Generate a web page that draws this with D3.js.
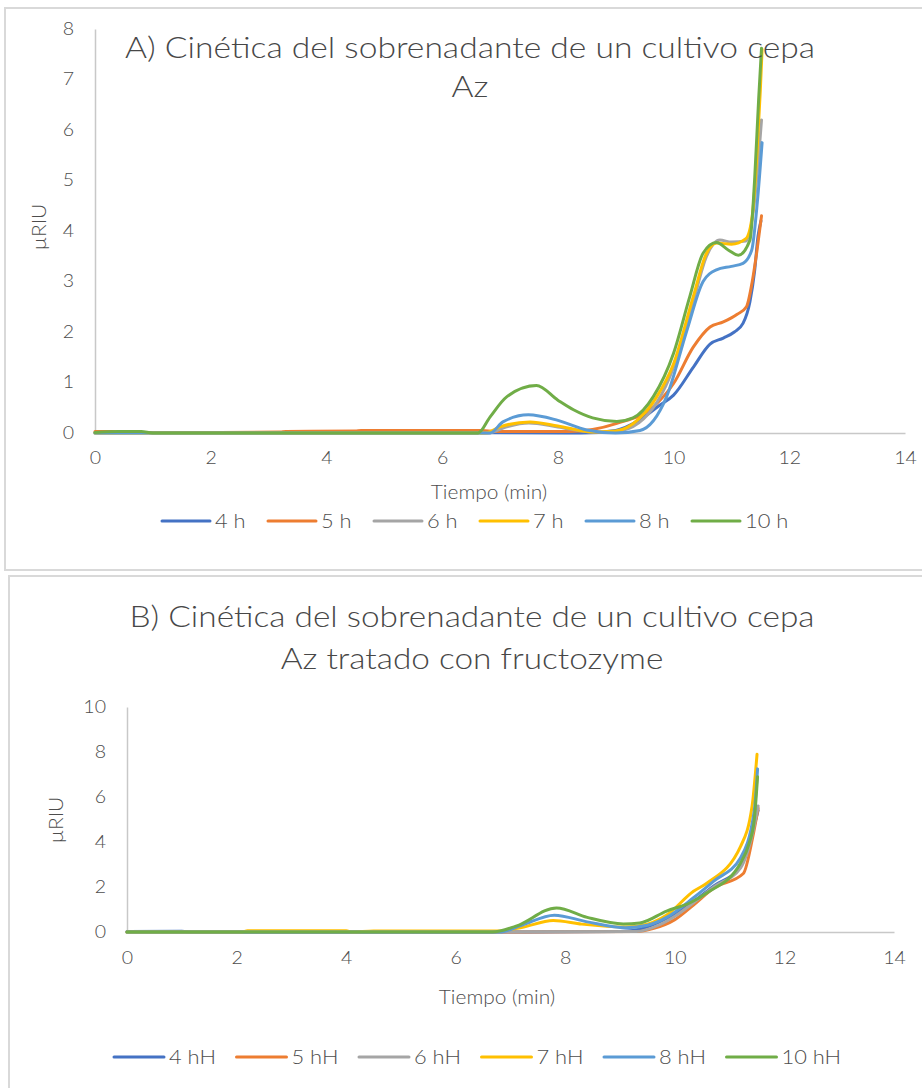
<!DOCTYPE html>
<html>
<head>
<meta charset="utf-8">
<script src="https://cdn.jsdelivr.net/npm/d3@7/dist/d3.min.js"></script>
<style>
  body { margin: 0; background: #fff; }
  svg text { font-family: Lato, "Open Sans", sans-serif; fill: #4d4d4d; font-weight: 300; }
  svg text.title { fill: #474747; }
</style>
</head>
<body>
<svg id="chart" width="922" height="1088"></svg>
<script>
// ---- Panel A: supernatant kinetics, strain Az (time in min, signal in µRIU)
const seriesNamesA = ["4 h", "5 h", "6 h", "7 h", "8 h", "10 h"];
const a4h = [[0,0.01],[2,0.01],[4,0.01],[6,0.01],[8.4,0.0],[9.0,0.05],[9.4,0.25],[9.76,0.55],[10.0,0.75],[10.34,1.3],[10.63,1.76],[10.86,1.88],[11.05,2.0],[11.2,2.17],[11.32,2.6],[11.4,3.2],[11.46,3.9],[11.51,4.2]];
const a5h = [[0,0.03],[0.3,0.03],[0.5,0.01],[1.6,0.01],[3.2,0.02],[3.3,0.03],[4.5,0.04],[4.6,0.05],[6.7,0.05],[6.9,0.03],[8.2,0.03],[8.6,0.07],[9.02,0.19],[9.65,0.52],[10.0,0.98],[10.34,1.7],[10.63,2.1],[10.86,2.2],[11.1,2.35],[11.26,2.5],[11.36,3.0],[11.44,3.6],[11.52,4.3]];
const a6h = [[0,0],[6.8,0],[7.1,0.12],[7.5,0.2],[8.0,0.12],[8.6,0.02],[9.0,0.03],[9.4,0.2],[10.0,1.3],[10.34,2.6],[10.57,3.5],[10.8,3.82],[11.0,3.78],[11.25,3.8],[11.4,4.6],[11.48,5.6],[11.52,6.2]];
const a7h = [[0,0],[6.75,0],[7.0,0.12],[7.52,0.22],[8.0,0.14],[8.6,0.02],[9.0,0.04],[9.4,0.28],[9.7,0.7],[10.0,1.37],[10.34,2.7],[10.57,3.56],[10.75,3.76],[11.0,3.74],[11.25,3.85],[11.36,4.3],[11.44,5.5],[11.5,6.8],[11.53,7.6]];
const a8h = [[0,0],[6.83,0],[7.05,0.22],[7.49,0.36],[8.0,0.25],[8.5,0.06],[9.0,0.0],[9.42,0.05],[9.88,0.72],[10.23,2.03],[10.51,3.0],[10.74,3.23],[11.0,3.3],[11.2,3.36],[11.35,3.62],[11.45,4.6],[11.53,5.75]];
const a10h = [[0,0.01],[0.4,0.03],[0.8,0.03],[1.0,0.0],[6.62,0],[6.83,0.32],[7.12,0.72],[7.63,0.94],[8.0,0.65],[8.27,0.46],[8.6,0.3],[9.02,0.23],[9.3,0.3],[9.65,0.72],[10.0,1.58],[10.28,2.7],[10.51,3.56],[10.74,3.77],[10.95,3.62],[11.12,3.52],[11.32,3.82],[11.4,5.0],[11.47,6.6],[11.52,7.62]];
const yTicksA = [0, 1, 2, 3, 4, 5, 6, 7, 8];

// ---- Panel B: same strain treated with fructozyme
const seriesNamesB = ["4 hH", "5 hH", "6 hH", "7 hH", "8 hH", "10 hH"];
const b4h = [[0,0.02],[1,0.03],[1.2,0.0],[7.0,0.0],[9.0,0.02],[9.4,0.15],[9.85,0.6],[10.34,1.35],[10.71,2.05],[11.2,2.9],[11.4,4.3],[11.52,5.4]];
const b5h = [[0,0],[7.0,0],[9.3,0.02],[9.6,0.15],[10.0,0.55],[10.34,1.2],[10.71,1.95],[11.25,2.6],[11.42,4.2],[11.52,5.5]];
const b6h = [[0,0],[9.3,0.02],[9.7,0.3],[10.0,0.7],[10.34,1.3],[10.71,2.0],[11.2,2.85],[11.42,4.4],[11.52,5.6]];
const b7h = [[0,0],[2.1,0],[2.2,0.06],[4.0,0.06],[4.1,0.0],[4.5,0.05],[6.5,0.05],[6.8,0.05],[7.2,0.2],[7.78,0.51],[8.3,0.35],[9.1,0.22],[9.5,0.35],[9.85,0.75],[10.34,1.81],[10.59,2.18],[11.2,3.81],[11.41,5.6],[11.5,7.9]];
const b8h = [[0,0],[6.8,0],[7.2,0.3],[7.8,0.75],[8.4,0.45],[9.1,0.19],[9.5,0.3],[9.85,0.65],[10.34,1.52],[10.71,2.26],[11.2,3.3],[11.45,5.4],[11.51,7.25]];
const b10h = [[0,0],[6.67,0],[7.1,0.26],[7.84,1.07],[8.4,0.65],[9.06,0.36],[9.36,0.4],[9.85,0.93],[10.28,1.3],[10.59,1.74],[11.2,3.07],[11.35,3.9],[11.45,5.0],[11.51,6.9]];
const yTicksB = [0, 2, 4, 6, 8, 10];

const xTicks = [0, 2, 4, 6, 8, 10, 12, 14];
const seriesColors = ["#4472C4", "#ED7D31", "#A5A5A5", "#FFC000", "#5B9BD5", "#70AD47"];

const svg = d3.select("#chart");

// widen glyphs horizontally by a factor (the text face is a touch wider than Lato)
function widen(sel, f) {
  sel.each(function () {
    const L = this.getComputedTextLength();
    d3.select(this).attr("textLength", L * f).attr("lengthAdjust", "spacingAndGlyphs");
  });
}

function drawPanel(p) {
  const g = svg.append("g");

  // panel frame
  g.append("rect")
    .attr("x", p.frame[0]).attr("y", p.frame[1])
    .attr("width", p.frame[2]).attr("height", p.frame[3])
    .attr("fill", "#fff").attr("stroke", "#d9d9d9").attr("stroke-width", 2);

  const x = d3.scaleLinear().domain([0, 14]).range(p.xRange);
  const y = d3.scaleLinear().domain(p.yDomain).range(p.yRange);

  // axes: plain lines, no tick marks
  const yAxis = d3.axisLeft(y).tickValues(p.yTicks).tickSize(0).tickPadding(p.yPad);
  const xAxis = d3.axisBottom(x).tickValues(xTicks).tickSize(0).tickPadding(p.xPad);

  const ya = g.append("g").attr("transform", `translate(${p.xRange[0]},0)`).call(yAxis);
  const xa = g.append("g").attr("transform", `translate(0,${p.yRange[0]})`).call(xAxis);
  [ya, xa].forEach(a => {
    a.select(".domain").attr("stroke", "#c8c8c8").attr("stroke-width", 1.5);
    const t = a.selectAll("text").attr("font-size", 17).attr("fill", "#4d4d4d")
      .style("font-family", "Lato, sans-serif").style("font-weight", 300);
    widen(t, 1.15);
  });

  // series
  const line = d3.line().x(d => x(d[0])).y(d => y(d[1])).curve(d3.curveMonotoneX);
  p.series.forEach((s, i) => {
    g.append("path").datum(s)
      .attr("d", line)
      .attr("fill", "none")
      .attr("stroke", seriesColors[i])
      .attr("stroke-width", 3)
      .attr("stroke-linejoin", "round")
      .attr("stroke-linecap", "round");
  });

  // title
  const titles = p.title.map((t, i) =>
    g.append("text").attr("class", "title")
      .attr("x", p.titlePos[0]).attr("y", p.titlePos[1] + i * p.titleGap)
      .attr("text-anchor", "middle").attr("font-size", 30).text(t));
  const f = p.titleWidth / titles[0].node().getComputedTextLength();
  titles.forEach(t => widen(t, f));

  // axis titles
  const yt = g.append("text")
    .attr("transform", `translate(${p.yTitlePos[0]},${p.yTitlePos[1]}) rotate(-90)`)
    .attr("text-anchor", "middle").attr("font-size", 19).text("µRIU");
  widen(yt, 1.1);
  const xt = g.append("text").attr("x", p.xTitlePos[0]).attr("y", p.xTitlePos[1])
    .attr("text-anchor", "middle").attr("font-size", 19).text("Tiempo (min)");
  widen(xt, 1.1);

  // legend
  p.names.forEach((n, i) => {
    const lx = p.legend[0] + i * p.legendStep;
    g.append("line")
      .attr("x1", lx).attr("x2", lx + p.legendLine)
      .attr("y1", p.legend[1]).attr("y2", p.legend[1])
      .attr("stroke", seriesColors[i]).attr("stroke-width", 3)
      .attr("stroke-linecap", "round");
    const lt = g.append("text").attr("x", lx + p.legendLine + 5).attr("y", p.legend[1] + 7)
      .attr("font-size", 19).text(n);
    widen(lt, 1.15);
  });
}

drawPanel({
  frame: [5, 8, 935, 562],
  xRange: [95, 905], yRange: [433, 29], yDomain: [0, 8], yTicks: yTicksA,
  yPad: 21, xPad: 19,
  series: [a4h, a5h, a6h, a7h, a8h, a10h], names: seriesNamesA,
  title: ["A) Cinética del sobrenadante de un cultivo cepa", "Az"],
  titlePos: [470, 58], titleGap: 39, titleWidth: 690,
  yTitlePos: [46, 227], xTitlePos: [489, 499],
  legend: [162, 521], legendStep: 106, legendLine: 48
});

drawPanel({
  frame: [9, 576, 935, 530],
  xRange: [127, 894], yRange: [932, 707], yDomain: [0, 10], yTicks: yTicksB,
  yPad: 21, xPad: 20,
  series: [b4h, b5h, b6h, b7h, b8h, b10h], names: seriesNamesB,
  title: ["B) Cinética del sobrenadante de un cultivo cepa", "Az tratado con fructozyme"],
  titlePos: [472, 627], titleGap: 42, titleWidth: 685,
  yTitlePos: [63, 820], xTitlePos: [497, 1004],
  legend: [114, 1057], legendStep: 122.5, legendLine: 50
});
</script>
</body>
</html>
